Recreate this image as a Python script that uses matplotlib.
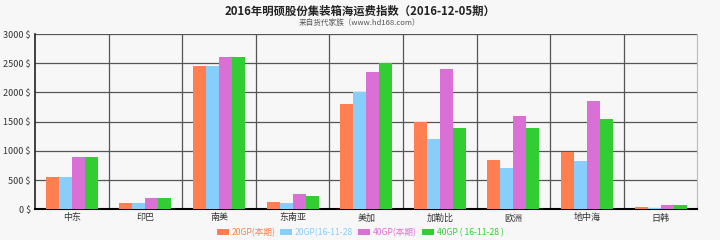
import matplotlib
matplotlib.use("Agg")
import matplotlib.pyplot as plt
import numpy as np

plt.rcParams['font.family'] = ['Noto Sans CJK SC', 'DejaVu Sans']

categories = ['中东', '印巴', '南美', '东南亚', '美加', '加勒比', '欧洲', '地中海', '日韩']
series_names = ['20GP(本期)', '20GP(16-11-28', '40GP(本期)', '40GP ( 16-11-28 )']
gp20_now = [550, 100, 2450, 125, 1800, 1500, 850, 975, 35]
gp20_prev = [550, 100, 2450, 100, 2000, 1200, 700, 825, 30]
gp40_now = [900, 200, 2600, 260, 2350, 2400, 1600, 1850, 80]
gp40_prev = [900, 200, 2600, 220, 2500, 1400, 1400, 1550, 80]
yticks = [0, 500, 1000, 1500, 2000, 2500, 3000]
colors = ['#FF7F50', '#87CEFA', '#DA70D6', '#32CD32']

bg = '#f7f7f7'
fig = plt.figure(figsize=(7.2, 2.4), dpi=100, facecolor=bg)
ax = fig.add_axes([0.0486, 0.128, 0.92, 0.73], facecolor=bg)

series = [gp20_now, gp20_prev, gp40_now, gp40_prev]
x = np.arange(len(categories))
w = 0.177
for i, (vals, c, name) in enumerate(zip(series, colors, series_names)):
    ax.bar(x + (i - 1.5) * w, vals, width=w, color=c, label=name, zorder=3)

ax.set_xlim(-0.5, len(categories) - 0.5)
ax.set_ylim(0, 3000)
ax.set_yticks(yticks)
ax.set_yticklabels([f'{v} $' for v in yticks], fontsize=6.5, color='#333333')
ax.set_xticks(x)
ax.set_xticklabels(categories, fontsize=6.5, color='#333333')
ax.tick_params(axis='both', length=0, pad=3)

for v in yticks[1:]:
    ax.axhline(v, color='#555555', lw=0.9, zorder=1)
for b in np.arange(0.5, len(categories) - 0.5, 1):
    ax.axvline(b, color='#555555', lw=0.9, zorder=1)

ax.spines['top'].set_visible(False)
ax.spines['right'].set_color('#bbbbbb')
ax.spines['left'].set_color('#222222')
ax.spines['left'].set_linewidth(1.2)
ax.spines['bottom'].set_color('#000000')
ax.spines['bottom'].set_linewidth(1.5)

fig.text(0.5, 0.955, '2016年明硕股份集装箱海运费指数（2016-12-05期）', ha='center', va='center',
         fontsize=8.2, fontweight='bold', color='#222222')
fig.text(0.5, 0.903, '来自货代家族（www.hd168.com）', ha='center', va='center',
         fontsize=5.5, color='#555555')

leg = fig.legend(loc='lower center', bbox_to_anchor=(0.5, -0.02), ncol=4, frameon=False,
                 fontsize=6.2, handlelength=1.4, handleheight=0.8, handletextpad=0.3,
                 columnspacing=0.6)
for t, c in zip(leg.get_texts(), colors):
    t.set_color(c)

fig.savefig('out.png', dpi=100, facecolor=bg)
